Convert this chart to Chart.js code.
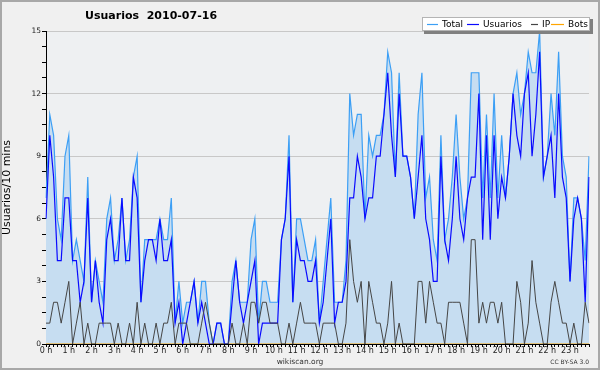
<!DOCTYPE html>
<html>
<head>
<meta charset="utf-8">
<title>Usuarios 2010-07-16</title>
<script src="https://cdn.jsdelivr.net/npm/chart.js@4.4.1/dist/chart.umd.min.js"></script>
<style>
  html, body { margin: 0; padding: 0; background: #f0f0f0; }
  canvas { display: block; }
</style>
</head>
<body>
<canvas id="grafico" width="600" height="370"></canvas>
<script>
// una hora = 6 puntos de 10 minutos
var horas = ['0 h', '1 h', '2 h', '3 h', '4 h', '5 h', '6 h', '7 h', '8 h', '9 h', '10 h', '11 h',
             '12 h', '13 h', '14 h', '15 h', '16 h', '17 h', '18 h', '19 h', '20 h', '21 h', '22 h', '23 h'];

var total = [
  7, 11, 10, 6, 5, 9, 10, 4, 5, 4, 3, 8,   2, 4, 3, 2, 6, 7, 4, 5, 7, 4, 5, 8,
  9, 2, 5, 5, 5, 5, 6, 5, 5, 7, 1, 3,      1, 2, 2, 3, 1, 3, 3, 1, 0, 1, 1, 0,
  0, 3, 4, 2, 2, 2, 5, 6, 1, 3, 3, 2,      2, 2, 5, 6, 10, 2, 6, 6, 5, 4, 4, 5,
  1, 3, 5, 7, 2, 2, 2, 4, 12, 10, 11, 11,  6, 10, 9, 10, 10, 11, 14, 13, 8, 13, 9, 9,
  8, 6, 11, 13, 7, 8, 5, 4, 10, 5, 6, 8,   11, 8, 6, 7, 13, 13, 13, 7, 11, 7, 12, 7,
  10, 7, 9, 12, 13, 11, 12, 14, 13, 13, 15, 8,  9, 12, 10, 14, 9, 8, 3, 7, 7, 6, 4, 9
];

var usuarios = [
  6, 10, 8, 4, 4, 7, 7, 4, 4, 2, 3, 7,     2, 4, 2, 1, 5, 6, 4, 4, 7, 4, 4, 8,
  7, 2, 4, 5, 5, 4, 6, 4, 4, 5, 1, 2,      0, 1, 2, 3, 1, 2, 1, 0, 0, 1, 1, 0,
  0, 2, 4, 2, 1, 2, 3, 4, 0, 1, 1, 1,      1, 1, 5, 6, 9, 2, 5, 4, 4, 3, 3, 4,
  1, 2, 4, 6, 1, 2, 2, 3, 7, 7, 9, 8,      6, 7, 7, 9, 9, 11, 13, 10, 8, 12, 9, 9,
  8, 6, 8, 10, 6, 5, 3, 3, 9, 5, 4, 6,     9, 6, 5, 7, 8, 8, 12, 5, 10, 5, 10, 6,
  8, 7, 9, 12, 10, 9, 12, 13, 9, 11, 14, 8,  9, 10, 7, 12, 8, 7, 3, 6, 7, 6, 2, 8
];

var ip = [
  1, 1, 2, 2, 1, 2, 3, 0, 1, 2, 0, 1,      0, 0, 1, 1, 1, 1, 0, 1, 0, 0, 1, 0,
  2, 0, 1, 0, 0, 1, 0, 1, 1, 2, 0, 1,      1, 1, 0, 0, 0, 1, 2, 1, 0, 0, 0, 0,
  0, 1, 0, 0, 1, 0, 2, 2, 1, 2, 2, 1,      1, 1, 0, 0, 1, 0, 1, 2, 1, 1, 1, 1,
  0, 1, 1, 1, 1, 0, 0, 1, 5, 3, 2, 3,      0, 3, 2, 1, 1, 0, 1, 3, 0, 1, 0, 0,
  0, 0, 3, 3, 1, 3, 2, 1, 1, 0, 2, 2,      2, 2, 1, 0, 5, 5, 1, 2, 1, 2, 2, 1,
  2, 0, 0, 0, 3, 2, 0, 1, 4, 2, 1, 0,      0, 2, 3, 2, 1, 1, 0, 1, 0, 0, 2, 1
];

var bots = [
  0, 0, 0, 0, 0, 0, 0, 0, 0, 0, 0, 0,      0, 0, 0, 0, 0, 0, 0, 0, 0, 0, 0, 0,
  0, 0, 0, 0, 0, 0, 0, 0, 0, 0, 0, 0,      0, 0, 0, 0, 0, 0, 0, 0, 0, 0, 0, 0,
  0, 0, 0, 0, 0, 0, 0, 0, 0, 0, 0, 0,      0, 0, 0, 0, 0, 0, 0, 0, 0, 0, 0, 0,
  0, 0, 0, 0, 0, 0, 0, 0, 0, 0, 0, 0,      0, 0, 0, 0, 0, 0, 0, 0, 0, 0, 0, 0,
  0, 0, 0, 0, 0, 0, 0, 0, 0, 0, 0, 0,      0, 0, 0, 0, 0, 0, 0, 0, 0, 0, 0, 0,
  0, 0, 0, 0, 0, 0, 0, 0, 0, 0, 0, 0,      0, 0, 0, 0, 0, 0, 0, 0, 0, 0, 0, 0
];

var colores = { total: '#3c9ff5', relleno: '#c6ddf1', usuarios: '#0a0aff', ip: '#454545', bots: '#ffa500' };

// etiquetas del eje x: la hora y cinco marcas vacias
var etiquetas = [];
for (var h = 0; h < horas.length; h++) {
  etiquetas.push(horas[h]);
  for (var k = 1; k < 6; k++) etiquetas.push('');
}

Chart.defaults.font.family = '"DejaVu Sans", sans-serif';

var decorado = {
  id: 'decorado',
  beforeDraw: function(chart) {
    var ctx = chart.ctx, a = chart.chartArea;
    ctx.save();
    ctx.fillStyle = '#f0f0f0';
    ctx.fillRect(0, 0, chart.width, chart.height);
    ctx.fillStyle = '#eef0f2';
    ctx.fillRect(a.left, a.top, a.right - a.left, a.bottom - a.top);
    ctx.strokeStyle = '#a8a8a8';
    ctx.lineWidth = 2;
    ctx.strokeRect(1, 1, chart.width - 2, chart.height - 2);
    ctx.restore();
  },
  afterDraw: function(chart) {
    var ctx = chart.ctx;
    ctx.save();
    // titulo
    ctx.fillStyle = '#000';
    ctx.textBaseline = 'middle';
    ctx.font = 'bold 11px "DejaVu Sans"';
    ctx.fillText('Usuarios  2010-07-16', 85, 16);

    // leyenda
    ctx.fillStyle = '#808080';
    ctx.fillRect(424, 19, 169, 15);
    ctx.fillStyle = '#fff';
    ctx.fillRect(422, 17, 168, 14);
    ctx.strokeStyle = '#b4b4b4';
    ctx.lineWidth = 1;
    ctx.strokeRect(422.5, 17.5, 167, 13);
    var items = [
      { txt: 'Total', col: colores.total, lx: 427, tx: 442 },
      { txt: 'Usuarios', col: colores.usuarios, lx: 467, tx: 483 },
      { txt: 'IP', col: colores.ip, lx: 531, tx: 542 },
      { txt: 'Bots', col: colores.bots, lx: 551, tx: 568 }
    ];
    ctx.font = '9px "DejaVu Sans"';
    items.forEach(function(it) {
      ctx.strokeStyle = it.col;
      ctx.lineWidth = 1.2;
      ctx.beginPath();
      ctx.moveTo(it.lx, 24.5);
      ctx.lineTo(it.tx - 4, 24.5);
      ctx.stroke();
      ctx.fillStyle = '#000';
      ctx.fillText(it.txt, it.tx, 24.5);
    });

    // pie
    ctx.fillStyle = '#333';
    ctx.font = '7.5px "DejaVu Sans"';
    ctx.textAlign = 'center';
    ctx.fillText('wikiscan.org', 300, 362);
    ctx.font = '6px "DejaVu Sans"';
    ctx.textAlign = 'right';
    ctx.fillText('CC BY-SA 3.0', 589, 362);
    ctx.restore();
  }
};

var ctx = document.getElementById('grafico');

var grafico = new Chart(ctx, {
  type: 'line',
  data: {
    labels: etiquetas,
    datasets: [
      {
        label: 'Total',
        data: total,
        borderColor: colores.total,
        backgroundColor: colores.relleno,
        borderWidth: 1.2,
        fill: 'origin',
        order: 3
      },
      {
        label: 'Usuarios',
        data: usuarios,
        borderColor: colores.usuarios,
        borderWidth: 1.2,
        fill: false,
        order: 2
      },
      {
        label: 'IP',
        data: ip,
        borderColor: colores.ip,
        borderWidth: 1,
        fill: false,
        order: 1
      },
      {
        label: 'Bots',
        data: bots,
        borderColor: colores.bots,
        borderWidth: 1,
        fill: false,
        order: 4
      }
    ]
  },
  options: {
    responsive: false,
    animation: false,
    devicePixelRatio: 1,
    layout: { padding: { top: 31, right: 11, left: 0, bottom: 0 } },
    elements: {
      point: { radius: 0, hoverRadius: 0 },
      line: { tension: 0 }
    },
    plugins: {
      legend: { display: false },
      tooltip: { enabled: false },
      filler: { drawTime: 'beforeDatasetsDraw' }
    },
    scales: {
      x: {
        type: 'category',
        z: 1,
        afterFit: function(s) { s.height = 26; },
        border: { color: '#000' },
        grid: { drawOnChartArea: false, tickColor: '#000', tickLength: 3 },
        ticks: { autoSkip: false, maxRotation: 0, minRotation: 0, padding: -1, color: '#222', font: { size: 8 } }
      },
      y: {
        min: 0,
        max: 15,
        afterFit: function(s) { s.width = 46; },
        border: { color: '#000' },
        grid: {
          color: function(c) { return c.tick && c.tick.value % 3 === 0 ? '#c8c8c8' : 'rgba(0,0,0,0)'; },
          tickColor: '#000',
          tickLength: 4
        },
        ticks: {
          stepSize: 0.75,
          padding: 1,
          color: '#222',
          font: { size: 7.5 },
          callback: function(v) { return v % 3 === 0 ? v : ''; }
        },
        title: {
          display: true,
          text: 'Usuarios/10 mins',
          color: '#000',
          font: { size: 11 },
          padding: { top: 1, bottom: 0 }
        }
      }
    }
  },
  plugins: [decorado]
});
</script>
</body>
</html>
